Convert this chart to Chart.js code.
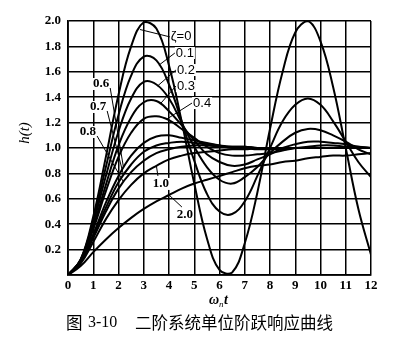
<!DOCTYPE html>
<html>
<head>
<meta charset="utf-8">
<script src="https://cdn.jsdelivr.net/npm/chart.js@4.4.1/dist/chart.umd.min.js"></script>
<style>
	html, body { margin: 0; padding: 0; background: #fff; }
	canvas { display: block; }
</style>
</head>
<body>
<canvas id="step-chart-canvas" width="402" height="351"></canvas>
<script>
// omega_n * t sample points (shared by every curve)
var wnT = [0, 0.5, 1, 1.5, 2, 2.5, 3, 3.5, 4, 4.5, 5, 5.5, 6, 6.5, 7, 7.5, 8, 8.5, 9, 9.5, 10, 10.5, 11, 11.5, 12];

// h(t), one list per damping ratio
var hZeta00 = [0, 0.12, 0.46, 0.93, 1.42, 1.80, 1.99, 1.94, 1.65, 1.21, 0.72, 0.29, 0.04, 0.02, 0.25, 0.65, 1.15, 1.60, 1.91, 2.00, 1.84, 1.48, 1.00, 0.52, 0.16];
var hZeta01 = [0, 0.12, 0.43, 0.85, 1.26, 1.57, 1.72, 1.69, 1.50, 1.21, 0.90, 0.64, 0.50, 0.48, 0.58, 0.78, 1.00, 1.21, 1.34, 1.39, 1.34, 1.21, 1.05, 0.89, 0.77];
var hZeta02 = [0, 0.12, 0.41, 0.78, 1.13, 1.39, 1.52, 1.50, 1.39, 1.20, 1.01, 0.85, 0.75, 0.72, 0.77, 0.85, 0.96, 1.05, 1.12, 1.15, 1.14, 1.10, 1.05, 0.99, 0.95];
var hZeta03 = [0, 0.11, 0.38, 0.71, 1.02, 1.24, 1.36, 1.37, 1.29, 1.18, 1.06, 0.95, 0.89, 0.86, 0.87, 0.91, 0.95, 1.00, 1.03, 1.05, 1.05, 1.04, 1.03, 1.01, 1.00];
var hZeta04 = [0, 0.11, 0.36, 0.66, 0.93, 1.12, 1.23, 1.25, 1.22, 1.15, 1.08, 1.01, 0.96, 0.94, 0.94, 0.95, 0.96, 0.98, 1.00, 1.01, 1.02, 1.02, 1.01, 1.01, 1.00];
var hZeta06 = [0, 0.10, 0.32, 0.57, 0.78, 0.94, 1.04, 1.09, 1.10, 1.08, 1.06, 1.04, 1.02, 1.00, 1.00, 0.99, 0.99, 0.99, 1.00, 1.00, 1.00, 1.00, 1.00, 1.00, 1.00];
var hZeta07 = [0, 0.10, 0.31, 0.53, 0.73, 0.87, 0.97, 1.02, 1.04, 1.05, 1.04, 1.03, 1.02, 1.01, 1.01, 1.00, 1.00, 1.00, 1.00, 1.00, 1.00, 1.00, 1.00, 1.00, 1.00];
var hZeta08 = [0, 0.10, 0.29, 0.50, 0.68, 0.81, 0.90, 0.96, 0.99, 1.01, 1.02, 1.02, 1.01, 1.01, 1.01, 1.00, 1.00, 1.00, 1.00, 1.00, 1.00, 1.00, 1.00, 1.00, 1.00];
var hZeta10 = [0, 0.09, 0.26, 0.44, 0.59, 0.71, 0.80, 0.86, 0.91, 0.94, 0.96, 0.97, 0.98, 0.99, 0.99, 1.00, 1.00, 1.00, 1.00, 1.00, 1.00, 1.00, 1.00, 1.00, 1.00];
var hZeta20 = [0, 0.07, 0.18, 0.28, 0.37, 0.45, 0.52, 0.58, 0.63, 0.68, 0.72, 0.75, 0.78, 0.81, 0.84, 0.86, 0.87, 0.89, 0.90, 0.92, 0.93, 0.94, 0.94, 0.95, 0.96];

var zetaNames = ["ζ=0", "0.1", "0.2", "0.3", "0.4", "0.6", "0.7", "0.8", "1.0", "2.0"];
var zetaSeries = [hZeta00, hZeta01, hZeta02, hZeta03, hZeta04, hZeta06, hZeta07, hZeta08, hZeta10, hZeta20];

// where each curve's label sits (data coords) and where its leader meets the curve
var curveLabels = [
	{ series: 0, x: 4.48, y: 1.875, at: 2.85, side: "left" },
	{ series: 1, x: 4.63, y: 1.748, at: 3.6, side: "left" },
	{ series: 2, x: 4.67, y: 1.614, at: 3.55, side: "left" },
	{ series: 3, x: 4.67, y: 1.488, at: 3.65, side: "left" },
	{ series: 4, x: 5.31, y: 1.354, at: 3.9, side: "left" },
	{ series: 5, x: 1.31, y: 1.504, at: 2.2, side: "right" },
	{ series: 6, x: 1.19, y: 1.323, at: 2.2, side: "right" },
	{ series: 7, x: 0.79, y: 1.126, at: 2.2, side: "right" },
	{ series: 8, x: 3.68, y: 0.717, at: 3.5, side: "top" },
	{ series: 9, x: 4.63, y: 0.472, at: 4.0, side: "top" }
];

function valueAt(series, t) {
	for(var i = 1; i < wnT.length; i++) {
		if(t <= wnT[i]) {
			var f = (t - wnT[i - 1]) / (wnT[i] - wnT[i - 1]);
			return series[i - 1] + f * (series[i] - series[i - 1]);
		}
	}
	return series[series.length - 1];
}

var textPlugin = {
	id: "figureText",
	afterDraw: function(chart) {
		var ctx = chart.ctx;
		var xScale = chart.scales.x;
		var yScale = chart.scales.y;

		ctx.save();
		ctx.fillStyle = "#000";
		ctx.strokeStyle = "#000";

		// curve labels with leader lines
		for(var item of curveLabels) {
			var text = zetaNames[item.series];
			ctx.font = item.series <= 4 ? "13px 'Liberation Sans'" : "bold 13px 'Liberation Serif'";
			var w = ctx.measureText(text).width;
			var cx = xScale.getPixelForValue(item.x);
			var cy = yScale.getPixelForValue(item.y);

			ctx.fillStyle = "#fff";
			ctx.fillRect(cx - w / 2 - 1, cy - 6, w + 2, 12);
			ctx.fillStyle = "#000";
			ctx.textAlign = "center";
			ctx.textBaseline = "middle";
			ctx.fillText(text, cx, cy);

			var sx = cx, sy = cy;
			if(item.side === "left") { sx = cx - w / 2 - 1; }
			else if(item.side === "right") { sx = cx + w / 2 + 1; sy = cy + 4; }
			else { sy = cy - 8; sx = cx - 3; }
			var ex = xScale.getPixelForValue(item.at);
			var ey = yScale.getPixelForValue(valueAt(zetaSeries[item.series], item.at));
			ctx.lineWidth = 1;
			ctx.beginPath();
			ctx.moveTo(sx, sy);
			ctx.lineTo(ex, ey);
			ctx.stroke();
		}

		// y axis title h(t)
		ctx.save();
		ctx.translate(25, 133);
		ctx.rotate(-Math.PI / 2);
		ctx.font = "italic 15px 'Liberation Serif'";
		ctx.textAlign = "center";
		ctx.textBaseline = "middle";
		ctx.fillText("h(t)", 0, 0);
		ctx.restore();

		// x axis title omega_n t
		ctx.textAlign = "left";
		ctx.textBaseline = "alphabetic";
		ctx.font = "italic bold 14px 'Liberation Serif'";
		ctx.fillText("ω", 209, 304);
		var ow = ctx.measureText("ω").width;
		ctx.font = "italic 9px 'Liberation Serif'";
		ctx.fillText("n", 209 + ow, 307);
		ctx.font = "italic bold 14px 'Liberation Serif'";
		ctx.fillText("t", 209 + ow + 5, 304);

		// caption
		ctx.textBaseline = "middle";
		ctx.font = "16.5px 'Noto Sans CJK SC'";
		ctx.fillText("图", 66, 323);
		ctx.font = "16px 'Liberation Serif'";
		ctx.fillText("3-10", 88, 323);
		ctx.font = "16.5px 'Noto Sans CJK SC'";
		ctx.fillText("二阶系统单位阶跃响应曲线", 135, 323);

		ctx.restore();
	}
};

window.onload = function() {
	var datasets = [];

	for(var i = 0; i < zetaSeries.length; i++) {
		datasets.push({
			label: zetaNames[i],
			data: wnT.map(function(t, k) { return { x: t, y: this[k] }; }, zetaSeries[i]),
			borderColor: "#000",
			borderWidth: 2,
			pointRadius: 0,
			tension: 0.4,
			fill: false
		});
	}

	var tickFont = { family: "'Liberation Serif'", size: 13, weight: "bold" };

	window.stepChart = new Chart(document.getElementById("step-chart-canvas"), {
		type: "line",
		data: { datasets: datasets },
		plugins: [textPlugin],
		options: {
			responsive: false,
			devicePixelRatio: 1,
			animation: false,
			layout: { padding: { left: 0, top: 21, right: 31, bottom: 0 } },
			plugins: {
				legend: { display: false },
				tooltip: { enabled: false }
			},
			scales: {
				x: {
					type: "linear",
					min: 0,
					max: 12,
					ticks: { stepSize: 1, color: "#000", font: tickFont, padding: 3, maxRotation: 0 },
					grid: { color: "#000", lineWidth: 1.5, drawTicks: false },
					border: { color: "#000", width: 1.8 },
					afterFit: function(scale) { scale.height = 76; }
				},
				y: {
					min: 0,
					max: 2,
					ticks: {
						stepSize: 0.2,
						color: "#000",
						font: tickFont,
						padding: 7,
						callback: function(value) { return value < 0.01 ? "" : value.toFixed(1); }
					},
					grid: { color: "#000", lineWidth: 1.5, drawTicks: false },
					border: { color: "#000", width: 1.8 },
					afterFit: function(scale) { scale.width = 68; }
				}
			}
		}
	});
};
</script>
</body>
</html>
